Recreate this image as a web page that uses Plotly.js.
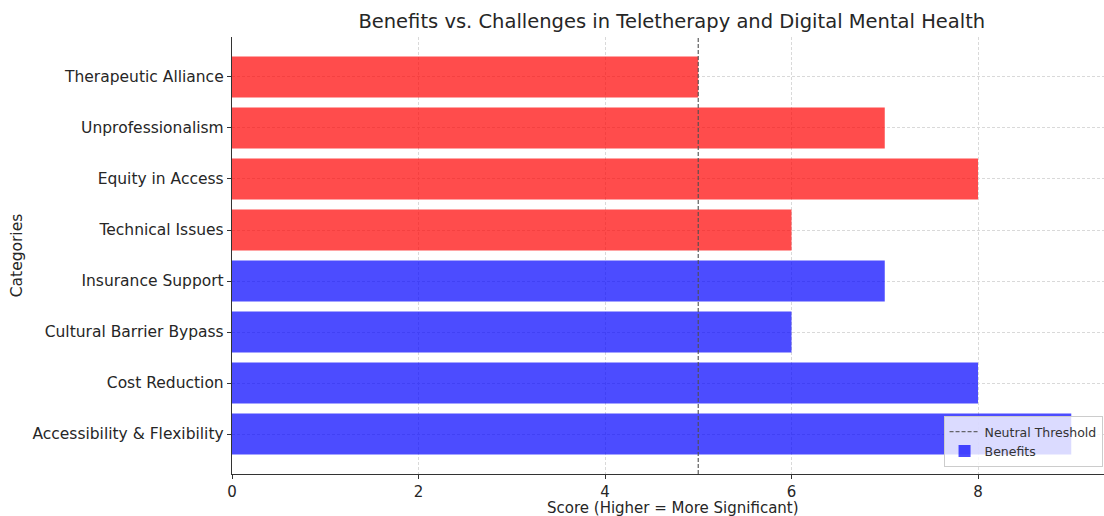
<!DOCTYPE html>
<html>
<head>
<meta charset="utf-8">
<script src="https://cdn.plot.ly/plotly-3.0.1.min.js"></script>
<style>body{margin:0;padding:0;background:#fff;} #chart{width:1104px;height:516px;}</style>
</head>
<body>
<div id="chart"></div>
<script>
const benefitCategories = ["Accessibility & Flexibility", "Cost Reduction", "Cultural Barrier Bypass", "Insurance Support"];
const benefitScores = [9, 8, 6, 7];
const challengeCategories = ["Technical Issues", "Equity in Access", "Unprofessionalism", "Therapeutic Alliance"];
const challengeScores = [6, 8, 7, 5];
const neutralThreshold = 5;
const xTickValues = [0, 2, 4, 6, 8];

const allCategories = benefitCategories.concat(challengeCategories);
const font = "DejaVu Sans, sans-serif";

const traces = [
  {
    type: "scatter", mode: "lines",
    x: [neutralThreshold, neutralThreshold],
    y: [0, 1], yaxis: "y2",
    line: {color: "rgba(80,80,80,0.85)", dash: "4px,2px", width: 1.3},
    name: "Neutral Threshold", hoverinfo: "skip"
  },
  {
    type: "bar", orientation: "h",
    x: benefitScores, y: benefitCategories,
    marker: {color: "rgba(0,0,255,0.7)", line: {width: 0}},
    width: 0.8, name: "Benefits"
  },
  {
    type: "bar", orientation: "h",
    x: challengeScores, y: challengeCategories,
    marker: {color: "rgba(255,0,0,0.7)", line: {width: 0}},
    width: 0.8, name: "Challenges", showlegend: false
  }
];

const layout = {
  width: 1104, height: 516,
  margin: {l: 232, r: 0, t: 37, b: 42},
  paper_bgcolor: "#fff", plot_bgcolor: "#fff",
  font: {family: font, size: 15.5, color: "#262626"},
  title: {text: "Benefits vs. Challenges in Teletherapy and Digital Mental Health",
          font: {family: font, size: 19.5, color: "#262626"},
          x: 0.6085, xanchor: "center", y: 0.958, yanchor: "middle"},
  barmode: "overlay",
  showlegend: true,
  legend: {x: 0.816, xanchor: "left", y: 0.016, yanchor: "bottom",
           bgcolor: "rgba(255,255,255,0.8)", bordercolor: "#cccccc", borderwidth: 1,
           font: {family: font, size: 12.5, color: "#333"}, traceorder: "normal",
           itemwidth: 30, tracegroupgap: 0},
  xaxis: {
    range: [0, 9.351], tickvals: xTickValues, ticktext: xTickValues.map(String),
    showgrid: true, gridcolor: "#d9d9d9", griddash: "3px,2px", gridwidth: 1,
    zeroline: false, showline: true, linecolor: "#333", linewidth: 1.2,
    ticks: "outside", ticklen: 4, tickcolor: "#333",
    tickfont: {size: 15}, automargin: false
  },
  yaxis: {
    type: "category", categoryorder: "array", categoryarray: allCategories,
    range: [-0.784, 7.784],
    showgrid: true, gridcolor: "#d9d9d9", griddash: "3px,2px", gridwidth: 1,
    showline: true, linecolor: "#333", linewidth: 1.2,
    ticks: "outside", ticklen: 4, tickcolor: "#333",
    tickfont: {size: 15.5}, automargin: false,
    title: {text: "Categories", font: {size: 15.5}, standoff: 6}
  },
  yaxis2: {overlaying: "y", range: [0, 1], visible: false, showgrid: false},
  annotations: [{
    text: "Score (Higher = More Significant)", xref: "paper", yref: "paper",
    x: 0.5057, xanchor: "center", y: -0.078, yanchor: "middle", showarrow: false,
    font: {family: font, size: 15, color: "#262626"}
  }]
};

Plotly.newPlot("chart", traces, layout, {displayModeBar: false, staticPlot: true});
</script>
</body>
</html>
